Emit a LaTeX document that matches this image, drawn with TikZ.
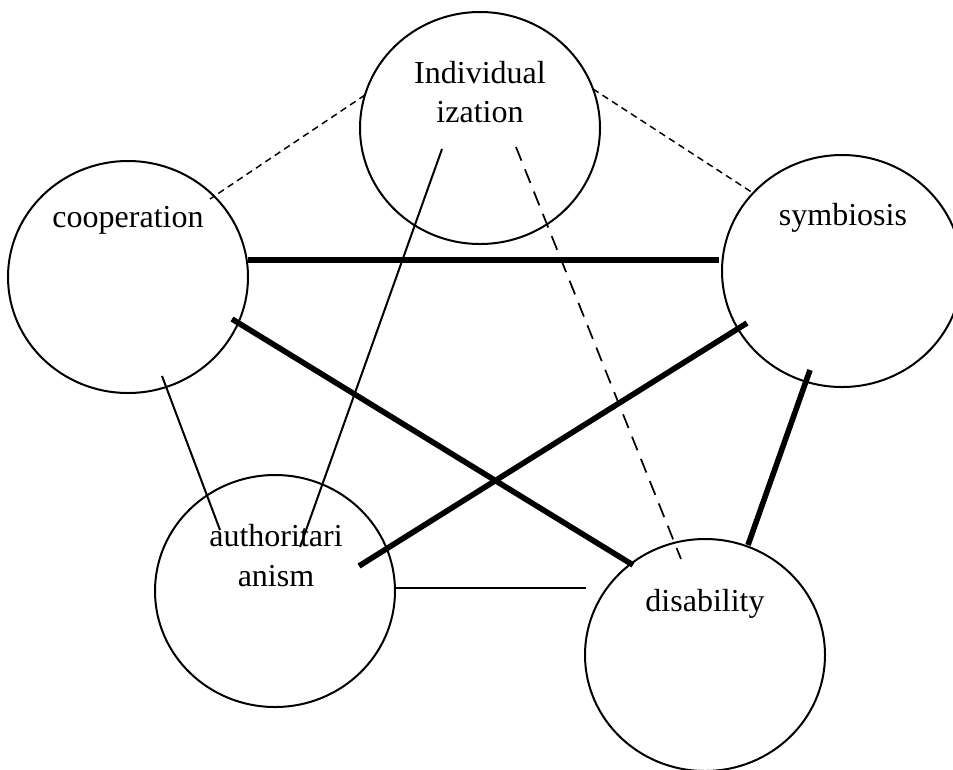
\documentclass[tikz,border=0pt]{standalone}
\usepackage{fontspec}
\setmainfont{Liberation Serif}
\usetikzlibrary{shapes.geometric}
\begin{document}
\begin{tikzpicture}[x=0.75pt,y=-0.75pt,
  circ/.style={ellipse,draw,line width=1.5pt,minimum width=180pt,minimum height=174pt,inner sep=0pt},
  lbl/.style={font=\fontsize{24}{28}\selectfont,anchor=base,inner sep=0pt},
  thinline/.style={line width=1.5pt},
  thickline/.style={line width=4.2pt},
  shortdash/.style={line width=1.1pt,dash pattern=on 5pt off 3.5pt},
  longdash/.style={line width=1.3pt,dash pattern=on 11pt off 7pt}]
\useasboundingbox (0,0) rectangle (953,769);
\begin{scope}
\clip (0,0) rectangle (953,769);
% circles
\node[circ] (ind) at (480,128) {};
\node[circ] (coop) at (128,277) {};
\node[circ] (sym) at (842,271) {};
\node[circ] (auth) at (275,591) {};
\node[circ] (dis) at (705,655) {};
\end{scope}
% labels
\node[lbl] (t1) at (480,83) {Individual};
\node[lbl] (t2) at (480,122) {ization};
\node[lbl] (t3) at (128,227) {cooperation};
\node[lbl] (t4) at (843,225) {symbiosis};
\node[lbl] (t5) at (276,546) {authoritari};
\node[lbl] (t6) at (276,586) {anism};
\node[lbl] (t7) at (705,611) {disability};
% endpoints
\coordinate (a1) at (365,95);  \coordinate (a2) at (210,199);
\coordinate (b1) at (593,89);  \coordinate (b2) at (753,193);
\coordinate (c1) at (248,260); \coordinate (c2) at (719,260);
\coordinate (d1) at (232,319); \coordinate (d2) at (633,565);
\coordinate (e1) at (747,323); \coordinate (e2) at (359,566);
\coordinate (f1) at (810,370); \coordinate (f2) at (748,545);
\coordinate (g1) at (162,376); \coordinate (g2) at (220,530);
\coordinate (h1) at (442,149); \coordinate (h2) at (300,547);
\coordinate (i1) at (516,147); \coordinate (i2) at (681,559);
\coordinate (j1) at (394,588); \coordinate (j2) at (586,588);
% connectors
\draw[shortdash] (a1) -- (a2);
\draw[shortdash] (b1) -- (b2);
\draw[thickline] (c1) -- (c2);
\draw[thickline] (d1) -- (d2);
\draw[thickline] (e1) -- (e2);
\draw[thickline] (f1) -- (f2);
\draw[thinline] (g1) -- (g2);
\draw[thinline] (h1) -- (h2);
\draw[longdash] (i1) -- (i2);
\draw[thinline] (j1) -- (j2);
\end{tikzpicture}
\end{document}
